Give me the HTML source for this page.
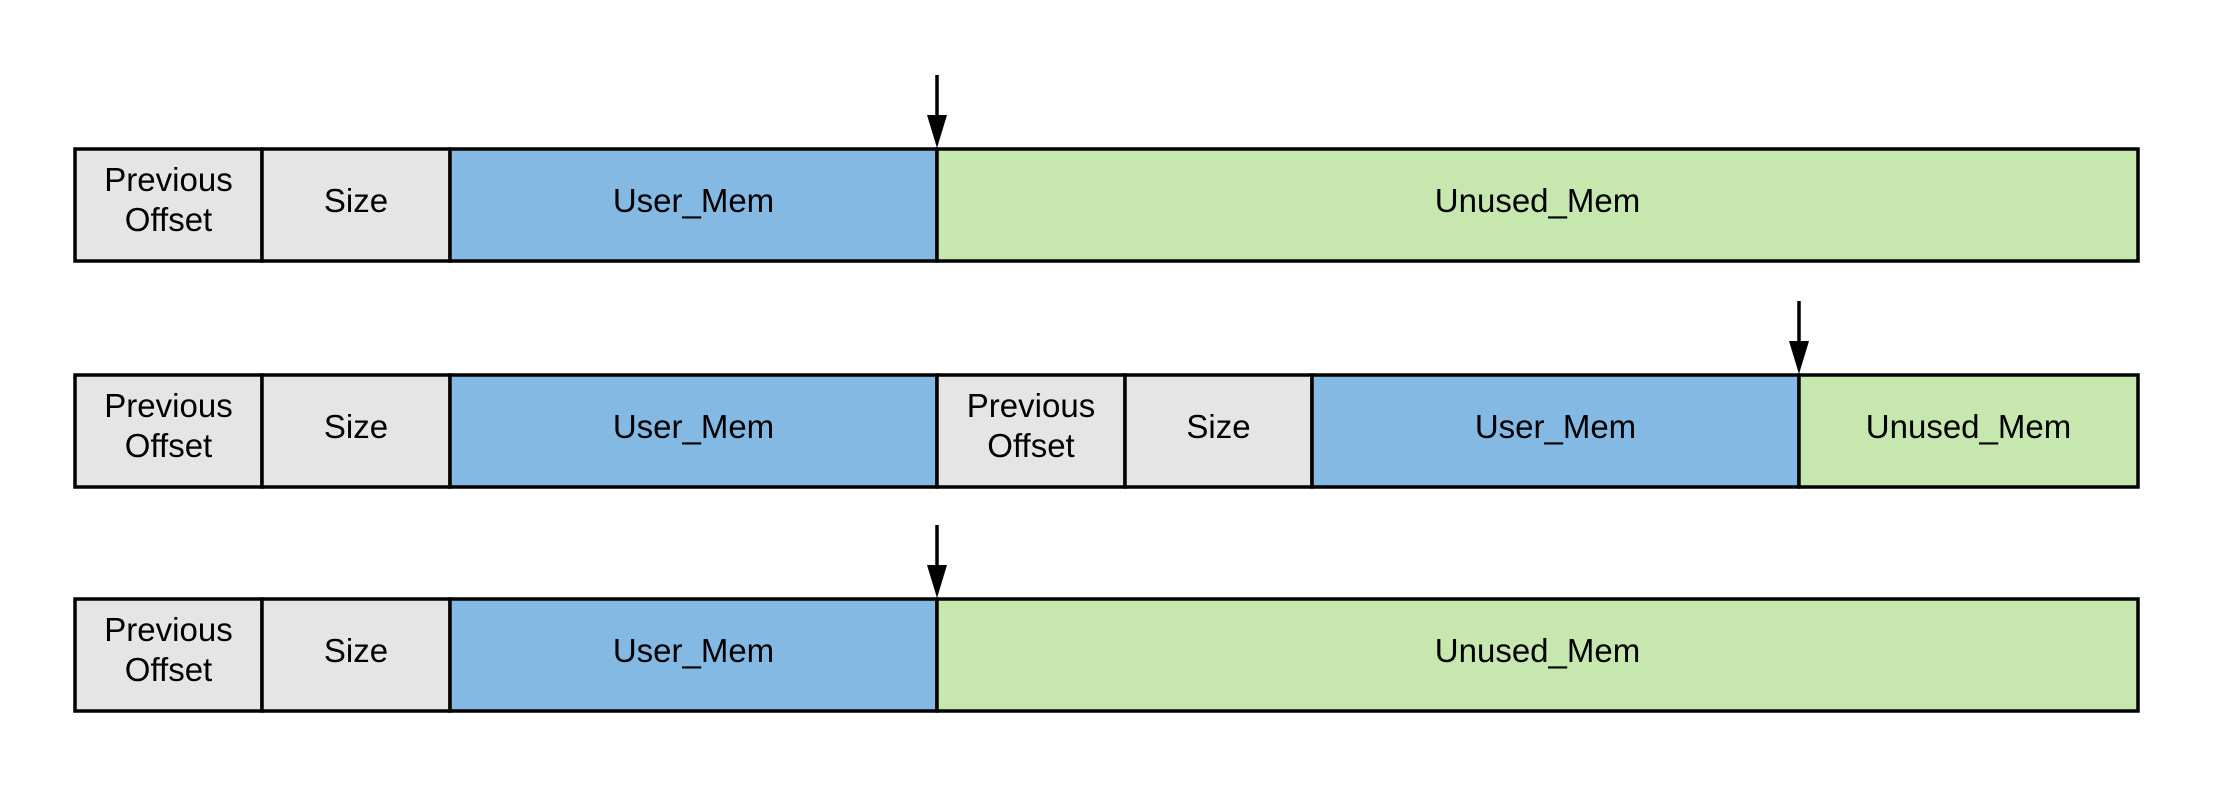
<!DOCTYPE html>
<html><head><meta charset="utf-8"><style>
html,body{margin:0;padding:0;background:#fff;width:2213px;height:788px;overflow:hidden}
svg text{font-family:"Liberation Sans",sans-serif;font-size:33px;fill:#000}
</style></head><body>
<svg id="s" width="2213" height="788" xmlns="http://www.w3.org/2000/svg"></svg>
<script>
const rowTops = [149, 375, 599];
const rowH = 112;
const cellEdges = [
  [75, 262, 450, 937, 2138],
  [75, 262, 450, 937, 1125, 1312, 1799, 2138],
  [75, 262, 450, 937, 2138]
];
const cellLabels = [
  ["Previous|Offset","Size","User_Mem","Unused_Mem"],
  ["Previous|Offset","Size","User_Mem","Previous|Offset","Size","User_Mem","Unused_Mem"],
  ["Previous|Offset","Size","User_Mem","Unused_Mem"]
];
const arrowX = [937, 1799, 937];
const colors = {"Previous|Offset":"#e5e5e5","Size":"#e5e5e5","User_Mem":"#83b9e3","Unused_Mem":"#c6e7ad"};
const NS="http://www.w3.org/2000/svg";
const s=document.getElementById('s');
function mk(t,a){const e=document.createElementNS(NS,t);for(const k in a)e.setAttribute(k,a[k]);return e;}
rowTops.forEach((top,r)=>{
  const g=mk('g',{});
  
  
  s.appendChild(g);
  const edges=cellEdges[r];
  cellLabels[r].forEach((lab,i)=>{
    const x0=edges[i],x1=edges[i+1];
    const rc=mk('rect',{x:x0,y:top,width:x1-x0,height:rowH,fill:colors[lab],stroke:'#000','stroke-width':3.5});
    
    
    g.appendChild(rc);
    const cx=(x0+x1)/2, cy=top+rowH/2;
    const parts=lab.split('|');
    const t=mk('text',{x:cx,'text-anchor':'middle'});
    
    
    if(parts.length===1){t.setAttribute('y',cy+7);t.textContent=parts[0];}
    else{
      parts.forEach((p,j)=>{const ts=mk('tspan',{x:cx,y:cy-14+j*40});ts.textContent=p;t.appendChild(ts);});
    }
    g.appendChild(t);
  });
  const ax=arrowX[r];
  const ag=mk('g',{});
  
  
  ag.appendChild(mk('line',{x1:ax,y1:top-74,x2:ax,y2:top-28,stroke:'#000','stroke-width':3.5}));
  ag.appendChild(mk('polygon',{points:`${ax-10},${top-34} ${ax+10},${top-34} ${ax},${top-1}`,fill:'#000'}));
  s.appendChild(ag);
});
</script>
</body></html>
